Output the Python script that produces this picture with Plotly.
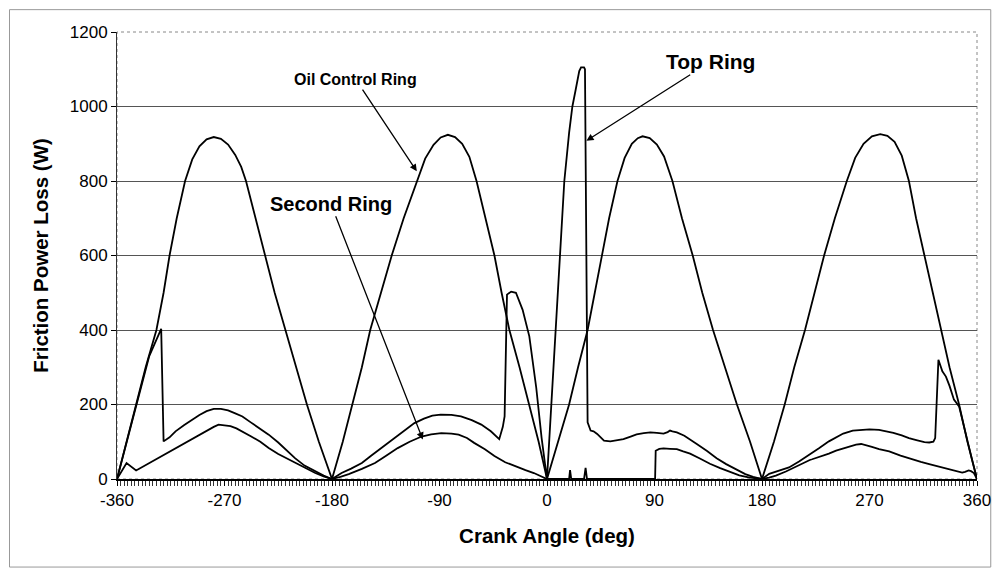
import plotly.graph_objects as go

# ---------------- data ----------------
oil_deg = [-360, -352, -344, -336, -327, -321, -316, -310, -303, -297, -291, -285, -279, -273, -267, -261, -256,
           -252, -244, -236, -228, -219, -210, -201, -191, -180,
           -171, -163, -155, -148, -139, -130, -120, -109, -102, -95, -89, -83, -77, -71, -65, -59, -52, -44,
           -38, -31.5, -23, -15, -7, 0,
           9, 18.5, 26, 34, 40, 46, 52, 59, 65, 71, 76, 80, 86, 92, 98, 105, 113, 122, 130, 139, 149, 159, 170, 180,
           190, 199, 207, 216, 224, 232, 241, 251, 258, 265, 272, 279, 285, 291, 297, 303, 309, 316, 323, 330,
           337, 345, 352, 360]
oil_val = [0, 100, 200, 300, 400, 500, 600, 700, 800, 858, 893, 912, 918, 913, 898, 870, 838,
           800, 700, 600, 500, 400, 300, 200, 100, 0,
           100, 200, 300, 400, 500, 600, 700, 800, 860, 897, 917, 924, 918, 900, 865, 800, 710, 600,
           500, 400, 300, 200, 100, 0,
           100, 200, 300, 400, 500, 600, 700, 800, 862, 900, 915, 920, 915, 898, 866, 800, 700, 600, 500, 400, 300,
           200, 100, 0,
           100, 200, 300, 400, 500, 600, 700, 800, 862, 900, 920, 926, 921, 905, 868, 800, 700, 600, 500, 400,
           300, 200, 100, 0]

top_deg = [-360, -350, -340, -333, -323, -321, -316, -311, -304, -297, -291, -285, -279, -273, -267, -261, -255,
           -248, -241, -233, -225, -218, -211, -203, -194, -187, -180,
           -172, -164, -155, -147, -138, -130, -120, -111, -103, -96, -89, -80, -72, -63, -55, -47, -40,
           -37, -35.5, -33.5, -30, -26, -20.4, -14.8, -9, -4.5, 0,
           5, 11.5, 14.5, 18.5, 21.25, 24, 27, 28.5, 31, 31.8, 34, 36.5, 39, 42, 47.7, 53, 58, 64, 70, 75, 81,
           86.5, 92, 97.6, 101, 103, 105, 108.7, 115, 120, 125.4, 134, 142, 150, 158.75, 166, 172.6, 180,
           186, 194, 202.6, 211, 219.3, 228, 236, 242, 248, 256, 263, 270, 278, 290, 297, 303, 310, 316, 320,
           323.5, 325, 327.7, 331, 334, 337, 340.7, 345, 349, 352, 356, 360]
top_val = [0, 125, 250, 330, 403, 101, 112, 128, 144, 159, 172, 182, 188, 188, 184, 176, 168,
           152, 137, 119, 98, 78, 56, 36, 20, 9, 0,
           16, 28, 43, 63, 85, 105, 128, 150, 162, 170, 173, 172, 168, 158, 146, 128, 107,
           140, 168, 495, 503, 500, 454, 383, 245, 110, 0,
           270, 615, 800, 929, 1000, 1045, 1095, 1105, 1105, 1100, 152, 130, 128, 121, 103, 101, 103, 107, 114, 120,
           123, 125, 124, 122, 126, 130, 128, 125, 116, 106, 94, 75, 56, 40, 25, 13, 6, 0,
           14, 22, 31, 47, 64, 83, 101, 112, 122, 130, 132, 133, 132, 124, 117, 110, 104, 99, 98,
           100, 110, 320, 289, 275, 250, 213, 195, 140, 100, 50, 0]

sec_deg = [-360, -352, -344, -330, -320, -310, -300, -292, -285, -279, -275, -270, -265, -260, -255, -248, -240,
           -233, -225, -218, -211, -202, -194, -187, -180,
           -173, -166, -155, -144, -135, -125, -115, -105, -97, -88.5, -80, -74, -67, -61, -52, -44, -35, -25,
           -18, -11, -5, 0,
           18.5, 19.3, 20.3, 31, 32.3, 33.5, 90.5, 91, 94, 97.6, 103, 108.7, 114, 119.8, 128, 136.4, 145, 153,
           161, 169.7, 180,
           186, 191.6, 200, 207, 214, 218, 220, 222, 230, 236, 242, 250, 258.75, 263, 267, 272, 278, 286.5, 296,
           306, 313, 320, 327, 334, 341, 347.6, 350, 353, 355, 357.4, 360]
sec_val = [0, 43, 23, 48, 66, 84, 103, 118, 130, 140, 146, 145, 142, 136, 128, 115, 100,
           83, 67, 55, 43, 28, 16, 7, 0,
           6, 13, 27, 43, 62, 83, 100, 114, 120, 123, 122, 119, 110, 97, 80, 62, 45, 32,
           24, 16, 8, 0,
           0, 24, 0, 0, 30, 0, 0, 76, 81, 82, 81, 80, 74, 68, 55, 41, 29, 19,
           10, 4, 0,
           4, 9, 20, 31, 43, 48, 51, 53, 61, 68, 76, 84, 92, 94, 91, 86, 80, 74, 63,
           52, 46, 40, 34, 29, 23, 17, 19, 23, 21, 16, 0]

x_ticks = [-360, -270, -180, -90, 0, 90, 180, 270, 360]
y_ticks = [0, 200, 400, 600, 800, 1000, 1200]

FONT = "Liberation Sans, Arial, sans-serif"

fig = go.Figure()
for name, xs, ys in [("Oil Control Ring", oil_deg, oil_val),
                     ("Top Ring", top_deg, top_val),
                     ("Second Ring", sec_deg, sec_val)]:
    fig.add_trace(go.Scatter(x=xs, y=ys, mode="lines", name=name,
                             line=dict(color="black", width=1.8), showlegend=False))

fig.update_layout(
    width=995, height=565,
    margin=dict(l=109, r=20, t=24, b=94),
    paper_bgcolor="white", plot_bgcolor="white",
    font=dict(family=FONT, color="black", size=17),
)

fig.update_xaxes(
    range=[-360, 360], tickvals=x_ticks, ticktext=[str(v) for v in x_ticks],
    showgrid=False, zeroline=False,
    showline=True, linecolor="black", linewidth=1.5,
    ticks="outside", ticklen=5, tickcolor="black", tickwidth=1,
    minor=dict(dtick=3, tick0=0, ticks="outside", ticklen=5, tickcolor="#333", tickwidth=1, showgrid=False),
    tickfont=dict(size=17, family=FONT),
    title=dict(text="<b>Crank Angle (deg)</b>", font=dict(size=20.5, family=FONT), standoff=19),
)
fig.update_yaxes(
    range=[0, 1200], tickvals=y_ticks,
    showgrid=True, gridcolor="#555", gridwidth=1, zeroline=False,
    showline=True, linecolor="#333", linewidth=1,
    ticks="outside", ticklen=5, tickcolor="black",
    tickfont=dict(size=17, family=FONT),
    title=dict(text="<b>Friction Power Loss (W)</b>", font=dict(size=20.5, family=FONT), standoff=15),
)

# plot-area border (gray, dotted) and outer chart frame
fig.add_shape(type="rect", xref="paper", yref="paper", x0=0, y0=0, x1=1, y1=1,
              line=dict(color="#888", width=1, dash="dot"), layer="below")
fig.add_shape(type="rect", xref="paper", yref="paper", x0=-0.125, y0=-0.197, x1=1.016, y1=1.05,
              line=dict(color="#999", width=1), layer="below")

arrow = dict(showarrow=True, arrowhead=2, arrowsize=1.1, arrowwidth=1.3, arrowcolor="black",
             axref="x", ayref="y")
fig.add_annotation(x=-109, y=826, ax=-160, ay=1072, text="<b>Oil Control Ring</b>",
                   font=dict(size=16, family=FONT), **arrow)
fig.add_annotation(x=-104, y=106, ax=-181, ay=739, text="<b>Second Ring</b>",
                   font=dict(size=20, family=FONT), **arrow)
fig.add_annotation(x=33, y=908, ax=137, ay=1120, text="<b>Top Ring</b>",
                   font=dict(size=21, family=FONT), **arrow)

fig.write_html("out.html")
